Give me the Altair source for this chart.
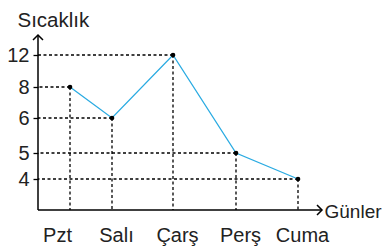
import json
import altair as alt
import pandas as pd

# ---- data ----
days = ["Pzt", "Salı", "Çarş", "Perş", "Cuma"]
day_idx = [0, 1, 2, 3, 4]
temps = [8, 6, 12, 5, 4]
y_ticks = [4, 5, 6, 8, 12]

df = pd.DataFrame({"idx": day_idx, "day": days, "temp": temps})

FONT = "Liberation Sans"
W, H = 284, 175
BLUE = "#2AABE2"

# schematic (non-uniform) axes as drawn in the figure
xs = alt.Scale(domain=day_idx, range=[32, 74, 135, 198, 260], zero=False, nice=False)
ys = alt.Scale(domain=y_ticks, range=[144, 118, 83, 52, 20], zero=False, nice=False)

label_expr = json.dumps(days, ensure_ascii=False) + "[datum.value]"

xaxis = alt.Axis(values=day_idx, labelExpr=label_expr, domain=False, ticks=False, grid=False,
                 labelFont=FONT, labelFontSize=20, labelColor="#222", labelPadding=31,
                 labelBaseline="alphabetic", labelFlush=False, labelOverlap=False,
                 labelOffset={"condition": {"test": "datum.value == 0", "value": -13},
                              "value": 4},
                 title="Günler", titleFont=FONT, titleFontSize=19, titleFontWeight="normal",
                 titleColor="#222", titleX=286, titleY=7, titleAlign="left",
                 titleBaseline="alphabetic")
yaxis = alt.Axis(values=y_ticks, domain=False, grid=False, tickSize=5, tickColor="black",
                 tickWidth=1.3, labelFont=FONT, labelFontSize=20, labelColor="#222", labelPadding=4,
                 title="Sıcaklık", titleFont=FONT, titleFontSize=20.5, titleFontWeight="normal",
                 titleColor="#222", titleAngle=0, titleX=-21, titleY=-9, titleAlign="left",
                 titleBaseline="alphabetic", labelOverlap=False)

X = alt.X("idx:Q", scale=xs, axis=xaxis)
Y = alt.Y("temp:Q", scale=ys, axis=yaxis)

base = alt.Chart(df)
dash = dict(color="black", strokeDash=[3, 2.5], strokeWidth=1.3)

hrule = base.mark_rule(**dash).encode(x=X, x2=alt.value(0), y=Y)
vrule = base.mark_rule(**dash).encode(x=X, y=Y, y2=alt.value(H))
line = base.mark_line(color=BLUE, strokeWidth=1.3).encode(x=X, y=Y)
pts = base.mark_circle(color="black", size=22, opacity=1).encode(x=X, y=Y)

one = alt.Data(values=[{"a": 0}])
yline = alt.Chart(one).mark_rule(color="black", strokeWidth=1.5).encode(
    x=alt.value(0), y=alt.value(0), y2=alt.value(H))
xline = alt.Chart(one).mark_rule(color="black", strokeWidth=1.5).encode(
    x=alt.value(0), x2=alt.value(W), y=alt.value(H))
yarrow = alt.Chart(one).mark_point(shape="M-1,1L0,0L1,1", size=100, filled=False,
                                   color="black", strokeWidth=1.5, opacity=1).encode(
    x=alt.value(0), y=alt.value(0))
xarrow = alt.Chart(one).mark_point(shape="M-1,-1L0,0L-1,1", size=100, filled=False,
                                   color="black", strokeWidth=1.5, opacity=1).encode(
    x=alt.value(W), y=alt.value(H))

chart = alt.layer(hrule, vrule, line, pts, yline, xline, yarrow, xarrow).properties(
    width=W, height=H,
    autosize=alt.AutoSizeParams(type="none"),
    padding={"left": 30, "top": 27, "right": 61, "bottom": 36},
).configure_view(stroke=None)

chart.save("out.html", embed_options={"renderer": "svg", "actions": False})
